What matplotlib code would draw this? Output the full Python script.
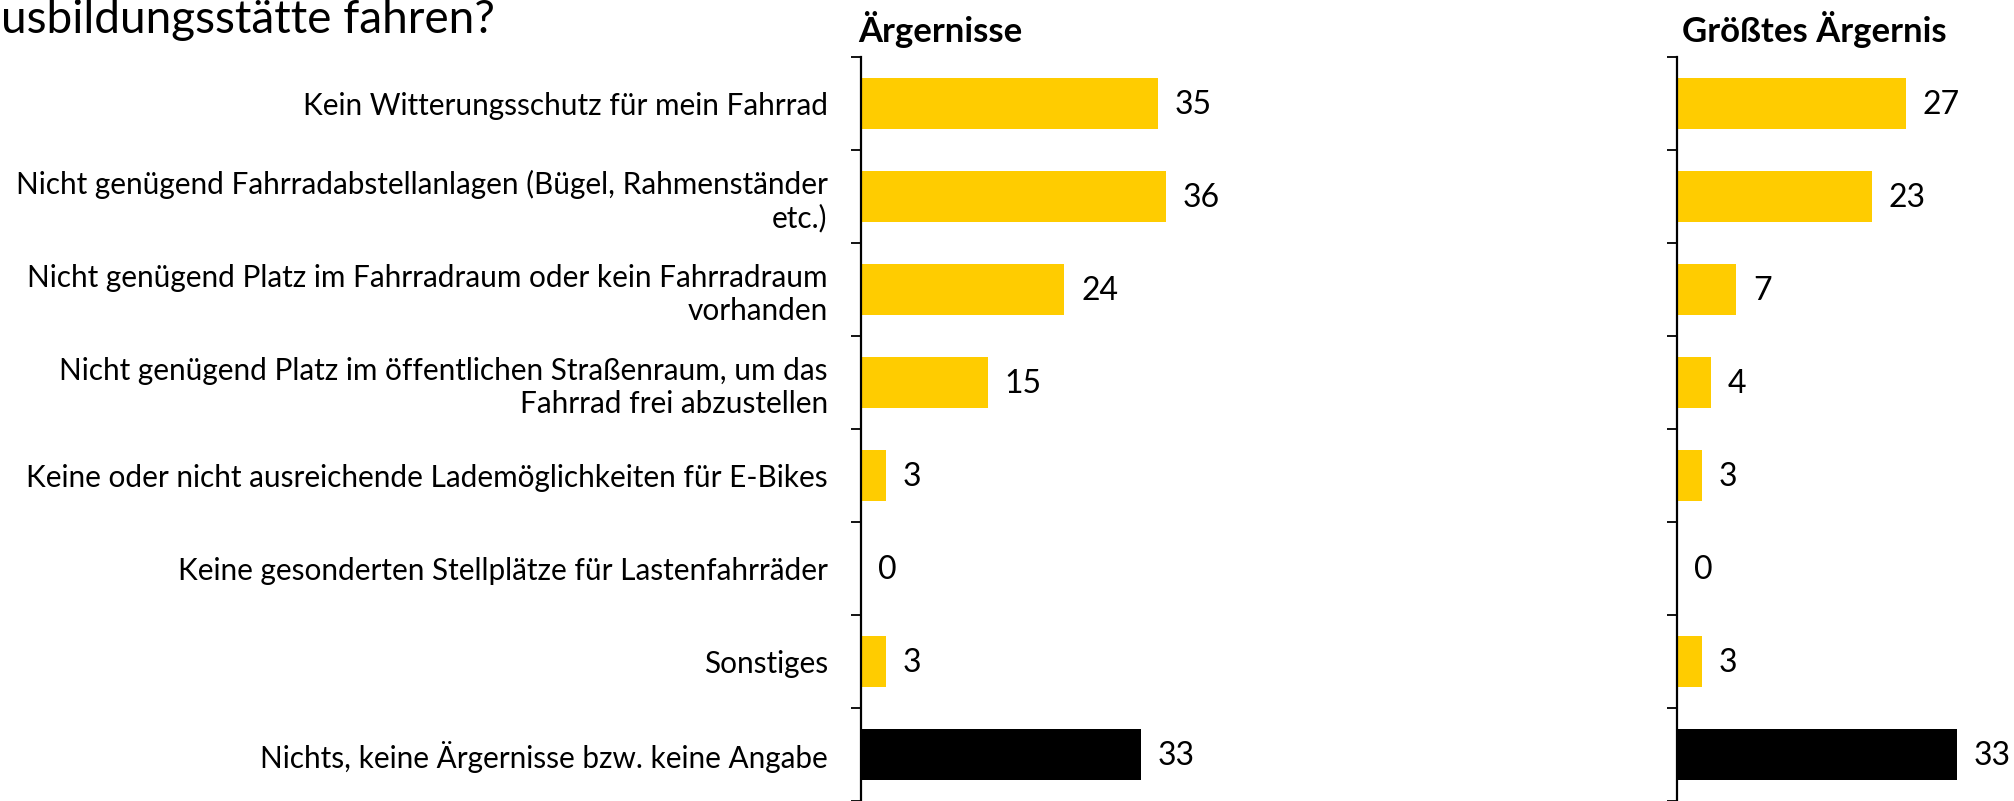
import matplotlib.pyplot as plt
import numpy as np

plt.rcParams['font.family'] = ['Lato', 'DejaVu Sans']

# Data
categories = [
    "Kein Witterungsschutz für mein Fahrrad",
    "Nicht genügend Fahrradabstellanlagen (Bügel, Rahmenständer\netc.)",
    "Nicht genügend Platz im Fahrradraum oder kein Fahrradraum\nvorhanden",
    "Nicht genügend Platz im öffentlichen Straßenraum, um das\nFahrrad frei abzustellen",
    "Keine oder nicht ausreichende Lademöglichkeiten für E-Bikes",
    "Keine gesonderten Stellplätze für Lastenfahrräder",
    "Sonstiges",
    "Nichts, keine Ärgernisse bzw. keine Angabe",
]
aergernisse = [35, 36, 24, 15, 3, 0, 3, 33]
groesstes = [27, 23, 7, 4, 3, 0, 3, 33]
panel_titles = ["Ärgernisse", "Größtes Ärgernis"]
# only the tail of the question is visible in the picture
title_tail = "usbildungsstätte fahren?"

YELLOW = "#FFCC00"
colors = [YELLOW] * 7 + ["black"]

W, H = 2014, 801
fig = plt.figure(figsize=(W / 100, H / 100), dpi=100)

top = 1 - 57 / H
ax1 = fig.add_axes([861 / W, 0, 339 / W, top])
ax2 = fig.add_axes([1677 / W, 0, 339 / W, top])

y = np.arange(len(categories))


def draw_panel(ax, values, show_labels):
    ax.barh(y, values, height=0.55, color=colors)
    ax.set_xlim(0, 40)
    ax.set_ylim(len(categories) - 0.5, -0.5)
    for sp in ['top', 'right', 'bottom']:
        ax.spines[sp].set_visible(False)
    ax.spines['left'].set_linewidth(1.6)
    ax.set_xticks([])
    # category boundaries get the tick marks
    ax.set_yticks(np.arange(-0.5, len(categories) + 0.5, 1), minor=True)
    ax.tick_params(axis='y', which='minor', length=7.5, width=1.3, direction='out')
    ax.set_yticks(y)
    ax.tick_params(axis='y', which='major', length=0, pad=24)
    if show_labels:
        ax.set_yticklabels(categories, fontsize=21.4, linespacing=1.2,
                           multialignment='right')
    else:
        ax.set_yticklabels([])
    for yi, v in zip(y, values):
        ax.annotate(str(v), (v, yi), xytext=(12, -1), textcoords='offset points',
                    va='center', ha='left', fontsize=23)


draw_panel(ax1, aergernisse, True)
draw_panel(ax2, groesstes, False)

fig.text(858 / W, 1 - 42 / H, panel_titles[0], fontsize=25, fontweight='bold',
         ha='left', va='baseline')
fig.text(1682 / W, 1 - 42 / H, panel_titles[1], fontsize=25, fontweight='bold',
         ha='left', va='baseline')

fig.text(1 / W, 1 - 33 / H, title_tail, fontsize=33, ha='left', va='baseline')

fig.savefig("out.png", dpi=100)
